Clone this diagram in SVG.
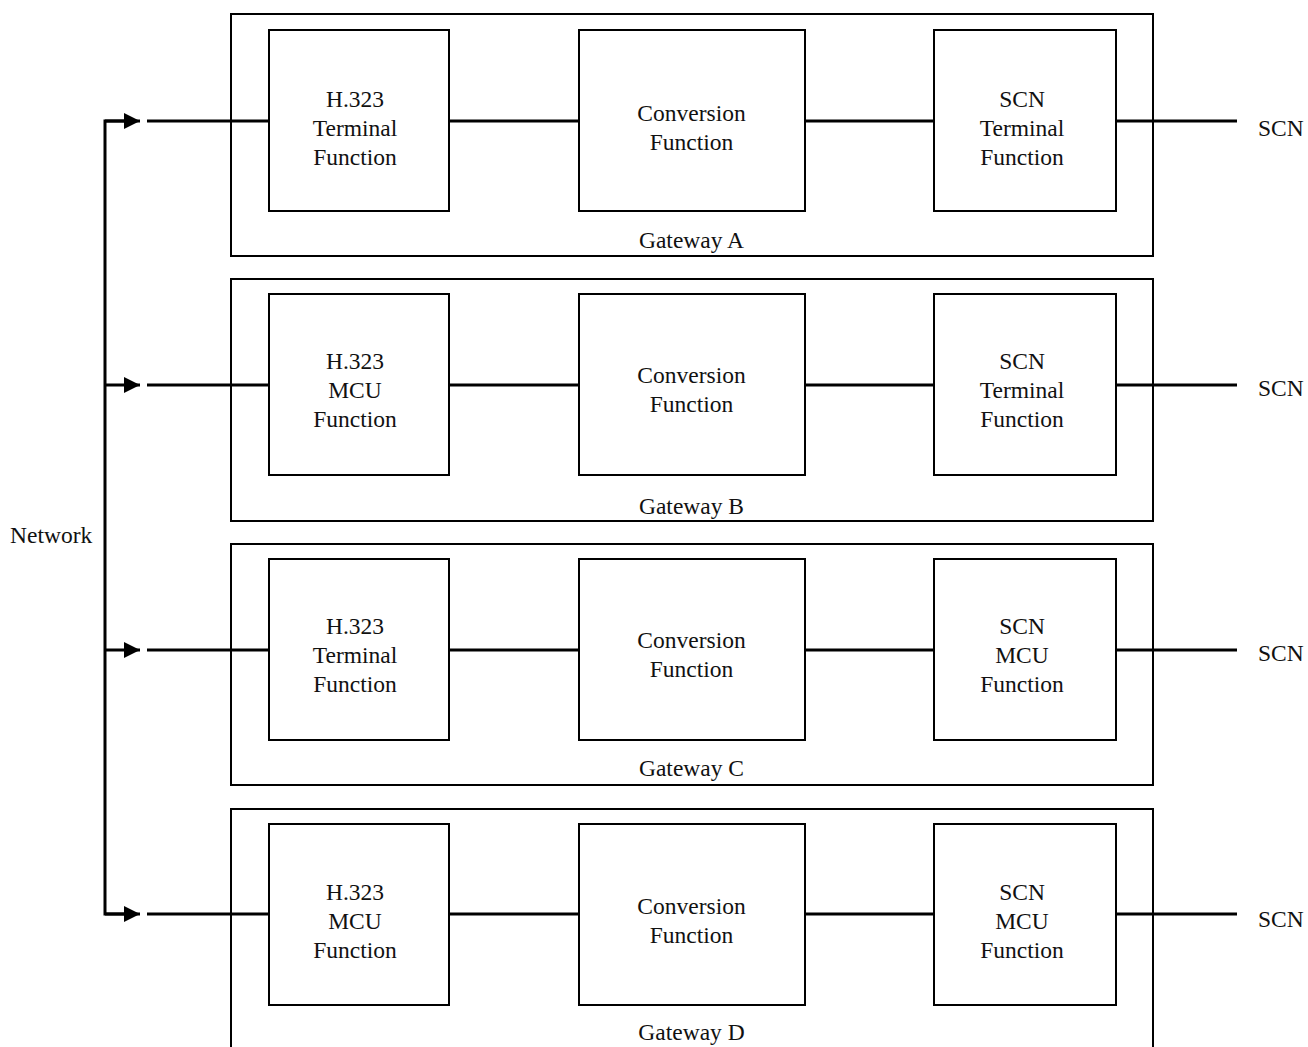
<svg xmlns="http://www.w3.org/2000/svg" width="1308" height="1047" viewBox="0 0 1308 1047">
  <defs>
    <style>
      .gw { fill: none; stroke: #000; stroke-width: 2; }
      .fn { fill: #fff; stroke: #000; stroke-width: 2; }
      .wire { fill: none; stroke: #000; stroke-width: 3; }
      text { font-family: "Liberation Serif", "Times New Roman", serif; font-size: 23.5px; fill: #111; }
      .c { text-anchor: middle; }
    </style>
    <marker id="head" viewBox="0 0 16 16" refX="16" refY="8" markerWidth="16" markerHeight="16" markerUnits="userSpaceOnUse" orient="auto">
      <path d="M0,0 L16,8 L0,16 Z" fill="#000"/>
    </marker>
  </defs>

  <!-- connectors -->
  <g id="connectors">
    <!-- network bus with feeds into each gateway -->
    <path class="wire" d="M127,121 H105 V914 H127"/>
    <path class="wire" d="M105,121 H140" marker-end="url(#head)"/>
    <path class="wire" d="M105,385 H140" marker-end="url(#head)"/>
    <path class="wire" d="M105,650 H140" marker-end="url(#head)"/>
    <path class="wire" d="M105,914 H140" marker-end="url(#head)"/>
    <!-- gateway A -->
    <path class="wire" d="M147,121 H269 M449,121 H579 M805,121 H934 M1116,121 H1237"/>
    <!-- gateway B -->
    <path class="wire" d="M147,385 H269 M449,385 H579 M805,385 H934 M1116,385 H1237"/>
    <!-- gateway C -->
    <path class="wire" d="M147,650 H269 M449,650 H579 M805,650 H934 M1116,650 H1237"/>
    <!-- gateway D -->
    <path class="wire" d="M147,914 H269 M449,914 H579 M805,914 H934 M1116,914 H1237"/>
  </g>

  <text id="network" x="10" y="543">Network</text>

  <!-- Gateway A -->
  <g id="gateway-a">
    <rect class="gw" x="231" y="14" width="922" height="242"/>
    <text class="c" x="691.5" y="248">Gateway A</text>
  </g>
  <g id="a-h323">
    <rect class="fn" x="269" y="30" width="180" height="181"/>
    <text class="c" x="355" y="107">H.323</text>
    <text class="c" x="355" y="136">Terminal</text>
    <text class="c" x="355" y="165">Function</text>
  </g>
  <g id="a-conv">
    <rect class="fn" x="579" y="30" width="226" height="181"/>
    <text class="c" x="691.5" y="121">Conversion</text>
    <text class="c" x="691.5" y="150">Function</text>
  </g>
  <g id="a-scn">
    <rect class="fn" x="934" y="30" width="182" height="181"/>
    <text class="c" x="1022" y="107">SCN</text>
    <text class="c" x="1022" y="136">Terminal</text>
    <text class="c" x="1022" y="165">Function</text>
  </g>
  <text id="a-scn-out" x="1258" y="136">SCN</text>

  <!-- Gateway B -->
  <g id="gateway-b">
    <rect class="gw" x="231" y="279" width="922" height="242"/>
    <text class="c" x="691.5" y="514">Gateway B</text>
  </g>
  <g id="b-h323">
    <rect class="fn" x="269" y="294" width="180" height="181"/>
    <text class="c" x="355" y="369">H.323</text>
    <text class="c" x="355" y="398">MCU</text>
    <text class="c" x="355" y="427">Function</text>
  </g>
  <g id="b-conv">
    <rect class="fn" x="579" y="294" width="226" height="181"/>
    <text class="c" x="691.5" y="383">Conversion</text>
    <text class="c" x="691.5" y="412">Function</text>
  </g>
  <g id="b-scn">
    <rect class="fn" x="934" y="294" width="182" height="181"/>
    <text class="c" x="1022" y="369">SCN</text>
    <text class="c" x="1022" y="398">Terminal</text>
    <text class="c" x="1022" y="427">Function</text>
  </g>
  <text id="b-scn-out" x="1258" y="396">SCN</text>

  <!-- Gateway C -->
  <g id="gateway-c">
    <rect class="gw" x="231" y="544" width="922" height="241"/>
    <text class="c" x="691.5" y="776">Gateway C</text>
  </g>
  <g id="c-h323">
    <rect class="fn" x="269" y="559" width="180" height="181"/>
    <text class="c" x="355" y="634">H.323</text>
    <text class="c" x="355" y="663">Terminal</text>
    <text class="c" x="355" y="692">Function</text>
  </g>
  <g id="c-conv">
    <rect class="fn" x="579" y="559" width="226" height="181"/>
    <text class="c" x="691.5" y="648">Conversion</text>
    <text class="c" x="691.5" y="677">Function</text>
  </g>
  <g id="c-scn">
    <rect class="fn" x="934" y="559" width="182" height="181"/>
    <text class="c" x="1022" y="634">SCN</text>
    <text class="c" x="1022" y="663">MCU</text>
    <text class="c" x="1022" y="692">Function</text>
  </g>
  <text id="c-scn-out" x="1258" y="661">SCN</text>

  <!-- Gateway D (frame runs past the lower edge) -->
  <g id="gateway-d">
    <rect class="gw" x="231" y="809" width="922" height="250"/>
    <text class="c" x="691.5" y="1040">Gateway D</text>
  </g>
  <g id="d-h323">
    <rect class="fn" x="269" y="824" width="180" height="181"/>
    <text class="c" x="355" y="900">H.323</text>
    <text class="c" x="355" y="929">MCU</text>
    <text class="c" x="355" y="958">Function</text>
  </g>
  <g id="d-conv">
    <rect class="fn" x="579" y="824" width="226" height="181"/>
    <text class="c" x="691.5" y="914">Conversion</text>
    <text class="c" x="691.5" y="943">Function</text>
  </g>
  <g id="d-scn">
    <rect class="fn" x="934" y="824" width="182" height="181"/>
    <text class="c" x="1022" y="900">SCN</text>
    <text class="c" x="1022" y="929">MCU</text>
    <text class="c" x="1022" y="958">Function</text>
  </g>
  <text id="d-scn-out" x="1258" y="927">SCN</text>
</svg>
